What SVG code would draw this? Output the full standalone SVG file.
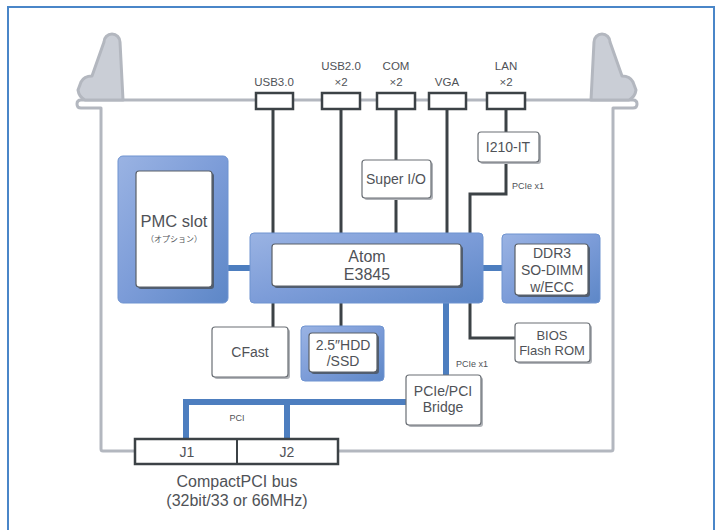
<svg xmlns="http://www.w3.org/2000/svg" width="720" height="530" viewBox="0 0 720 530">
<defs>
<linearGradient id="bg" x1="0" y1="0" x2="1" y2="1">
<stop offset="0" stop-color="#9ab3e3"/>
<stop offset="0.5" stop-color="#7c9cd8"/>
<stop offset="1" stop-color="#5d87c7"/>
</linearGradient>
<style>
.frame{fill:none;stroke:#4a86c8;stroke-width:2}
.chassis{fill:none;stroke:#b3b7bf;stroke-width:3;stroke-linejoin:round}
.handle{fill:#caced6;stroke:#b3b7bf;stroke-width:3;stroke-linejoin:round}
.port{fill:#fff;stroke:#3c4246;stroke-width:2.5}
.dk{fill:none;stroke:#3c4246;stroke-width:3}
.bl{fill:none;stroke:#4d7ebf;stroke-width:6}
.bo{fill:url(#bg);stroke:#6e93d0;stroke-width:1}
.in{fill:#fff;stroke:#5a6068;stroke-width:1.2}
.insh{fill:#4f5d72}
.gb{fill:#fff;stroke:#6a6f75;stroke-width:1.2}
.gsh{fill:#b0b3b8}
text{font-family:"Liberation Sans","Noto Sans CJK JP",sans-serif;fill:#4f5257;text-anchor:middle}
.t11{font-size:11.5px}
.t13{font-size:13px}
.t14{font-size:14px}
.t16{font-size:16px}
.t9{font-size:9px}
.jp{font-family:"Noto Sans CJK JP",sans-serif;font-size:8px}
</style>
</defs>
<rect class="frame" x="8" y="7" width="706" height="540"/>

<g id="chassis">
<path class="chassis" d="M101,449 V108 H81 Q77,108 77,104 Q77,100 81,100 H633 Q637,100 637,104 Q637,108 633,108 H613 V449 Q613,451 611,451 H103 Q101,451 101,449 Z"/>
<path class="handle" d="M123,100 L120,42 A8,8 0 0 0 104,42 L92,76 Q84,76 81,82 L78,90 Q79,97 85,100 Z"/>
<path class="handle" d="M591,100 L594,42 A8,8 0 0 1 610,42 L622,76 Q630,76 633,82 L636,90 Q635,97 629,100 Z"/>
</g>

<g id="connectors">
<path class="dk" d="M273,109 V233 M273,303 V327"/>
<path class="dk" d="M341,109 V233 M341,303 V326"/>
<path class="dk" d="M396,109 V160 M396,198 V233"/>
<path class="dk" d="M447,109 V233"/>
<path class="dk" d="M506,109 V132 M506,162 V194 H470 V233"/>
<path class="dk" d="M470,303 V338 H515"/>
<path class="bl" d="M228,268 H250"/>
<path class="bl" d="M483,268 H502"/>
<path class="bl" d="M446,303 V375"/>
<path class="bl" d="M406,402 H186 V439 M287,402 V439"/>
<text class="t9" x="512" y="189" style="text-anchor:start">PCIe x1</text>
<text class="t9" x="456" y="367" style="text-anchor:start">PCIe x1</text>
<text class="t9" x="237" y="421">PCI</text>
</g>

<g id="ports">
<rect class="port" x="256" y="93" width="37" height="16"/>
<rect class="port" x="322" y="93" width="38" height="16"/>
<rect class="port" x="377" y="93" width="38" height="16"/>
<rect class="port" x="429" y="93" width="37" height="16"/>
<rect class="port" x="487" y="93" width="38" height="16"/>
<text class="t11" x="274" y="86">USB3.0</text>
<text class="t11" x="341" y="70">USB2.0</text>
<text class="t11" x="341" y="86">×2</text>
<text class="t11" x="396" y="70">COM</text>
<text class="t11" x="396" y="86">×2</text>
<text class="t11" x="447" y="86">VGA</text>
<text class="t11" x="506" y="70">LAN</text>
<text class="t11" x="506" y="86">×2</text>
</g>

<g id="pmc">
<rect class="bo" x="118" y="156" width="110" height="147" rx="5"/>
<rect class="insh" x="138" y="173" width="76" height="116" rx="3"/>
<rect class="in" x="136" y="171" width="76" height="116" rx="3"/>
<text x="174" y="227" style="font-size:16.5px">PMC slot</text>
<text class="jp" x="174" y="242">（オプション）</text>
</g>

<g id="atom">
<rect class="bo" x="250" y="233" width="233" height="70" rx="4"/>
<rect class="insh" x="274" y="246" width="189" height="42" rx="3"/>
<rect class="in" x="272" y="244" width="189" height="42" rx="3"/>
<text class="t16" x="367" y="262">Atom</text>
<text class="t16" x="367" y="280">E3845</text>
</g>

<g id="ddr3">
<rect class="bo" x="502" y="234" width="98" height="69" rx="4"/>
<rect class="insh" x="517" y="246" width="73" height="51" rx="3"/>
<rect class="in" x="515" y="244" width="73" height="51" rx="3"/>
<text class="t14" x="552" y="258">DDR3</text>
<text class="t14" x="552" y="275">SO-DIMM</text>
<text class="t14" x="552" y="292">w/ECC</text>
</g>

<g id="superio">
<rect class="gsh" x="364" y="162" width="69" height="38" rx="3"/>
<rect class="gb" x="362" y="160" width="69" height="38" rx="3"/>
<text class="t14" x="396" y="184">Super I/O</text>
</g>

<g id="i210">
<rect class="gsh" x="480" y="134" width="61" height="30" rx="3"/>
<rect class="gb" x="478" y="132" width="61" height="30" rx="3"/>
<text class="t14" x="508" y="152">I210-IT</text>
</g>

<g id="bios">
<rect class="gsh" x="517" y="325" width="75" height="39" rx="3"/>
<rect class="gb" x="515" y="323" width="75" height="39" rx="3"/>
<text class="t13" x="552" y="340">BIOS</text>
<text class="t13" x="552" y="355">Flash ROM</text>
</g>

<g id="cfast">
<rect class="gsh" x="214" y="329" width="76" height="50" rx="3"/>
<rect class="gb" x="212" y="327" width="76" height="50" rx="3"/>
<text class="t14" x="250" y="357">CFast</text>
</g>

<g id="hdd">
<rect class="bo" x="301" y="326" width="83" height="55" rx="4"/>
<rect class="insh" x="311" y="335" width="68" height="39" rx="3"/>
<rect class="in" x="309" y="333" width="68" height="39" rx="3"/>
<text class="t14" x="343" y="350">2.5″HDD</text>
<text class="t14" x="343" y="366">/SSD</text>
</g>

<g id="bridge">
<rect class="gsh" x="408" y="377" width="75" height="50" rx="3"/>
<rect class="gb" x="406" y="375" width="75" height="50" rx="3"/>
<text class="t14" x="443" y="396">PCIe/PCI</text>
<text class="t14" x="443" y="412">Bridge</text>
</g>

<g id="cpci">
<rect class="port" x="135" y="439" width="203" height="25"/>
<path class="dk" d="M237,439 V464" style="stroke-width:2"/>
<text class="t14" x="187" y="457">J1</text>
<text class="t14" x="287" y="457">J2</text>
<text class="t16" x="237" y="487">CompactPCI  bus</text>
<text class="t16" x="237" y="506">(32bit/33 or 66MHz)</text>
</g>
</svg>
